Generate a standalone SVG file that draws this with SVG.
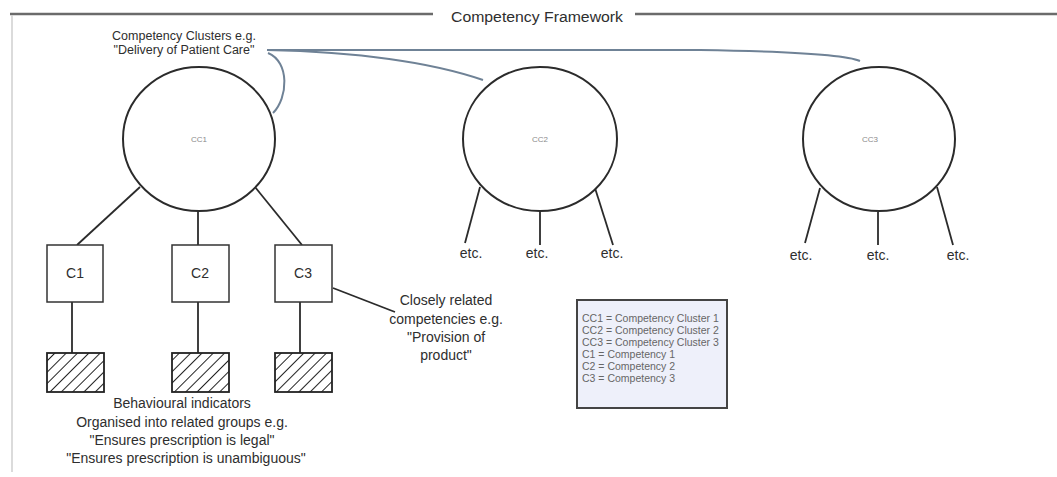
<svg xmlns="http://www.w3.org/2000/svg" width="1057" height="477" viewBox="0 0 1057 477">
<defs>
<style>
text{font-family:"Liberation Sans",Arial,sans-serif;fill:#2e2e2e}
.frame{stroke:#6b6b6b;stroke-width:2.5;fill:none}
.border{stroke:#cfcfcf;stroke-width:1.5;fill:none}
.cc{fill:#fff;stroke:#2b2b2b;stroke-width:2}
.box{fill:#fff;stroke:#333;stroke-width:1.5}
.hatch{fill:url(#hatch);stroke:#222;stroke-width:1.8}
.ln{stroke:#2b2b2b;stroke-width:1.8;fill:none}
.blue{stroke:#6f8296;stroke-width:2;fill:none}
.lbl{font-size:14px;text-anchor:middle}
.tiny{font-size:8px;fill:#8a8a8a;text-anchor:middle}
.leg{font-size:10.5px;fill:#666}
</style>
<pattern id="hatch" patternUnits="userSpaceOnUse" width="8" height="8" patternTransform="rotate(45)">
<rect width="8" height="8" fill="#fff"/>
<line x1="0" y1="0" x2="0" y2="8" stroke="#222" stroke-width="2"/>
</pattern>
</defs>
<rect width="1057" height="477" fill="#fff"/>
<g id="frame">
<line class="frame" x1="10" y1="14" x2="433" y2="14"/>
<line class="frame" x1="635" y1="14" x2="1057" y2="14"/>
<line class="border" x1="12" y1="15" x2="12" y2="472"/>
<text x="537" y="22" font-size="14" text-anchor="middle" fill="#555" textLength="172" lengthAdjust="spacingAndGlyphs">Competency Framework</text>
</g>
<g id="connectors">
<path class="blue" d="M267,50 L700,50 Q840,52 860,61"/>
<path class="blue" d="M267,50 C360,52 430,62 483,80"/>
<path class="blue" d="M268,53 C290,62 288,98 273,113"/>
<path class="ln" d="M140,187 L77,245"/>
<path class="ln" d="M198,210 L198,245"/>
<path class="ln" d="M255,187 L302,245"/>
<path class="ln" d="M72,302 L72,353"/>
<path class="ln" d="M198,302 L198,353"/>
<path class="ln" d="M300,302 L300,353"/>
<path class="ln" d="M333,288 L395,312"/>
<path class="ln" d="M480,187 L465,243"/>
<path class="ln" d="M540,210 L540,245"/>
<path class="ln" d="M595,188 L613,245"/>
<path class="ln" d="M820,188 L805,243"/>
<path class="ln" d="M878,212 L878,245"/>
<path class="ln" d="M937,187 L953,245"/>
</g>
<g id="cc1"><ellipse class="cc" cx="199" cy="139" rx="76" ry="72"/><text class="tiny" x="199" y="142">CC1</text></g>
<g id="cc2"><ellipse class="cc" cx="540" cy="139" rx="77" ry="72"/><text class="tiny" x="540" y="142">CC2</text></g>
<g id="cc3"><ellipse class="cc" cx="879" cy="139" rx="76" ry="72"/><text class="tiny" x="870" y="142">CC3</text></g>
<g id="c1"><rect class="box" x="47" y="245" width="56" height="57"/><text class="lbl" x="75" y="278" fill="#444">C1</text></g>
<g id="c2"><rect class="box" x="172" y="245" width="57" height="57"/><text class="lbl" x="200" y="278" fill="#444">C2</text></g>
<g id="c3"><rect class="box" x="275" y="245" width="57" height="57"/><text class="lbl" x="303" y="278" fill="#444">C3</text></g>
<g id="bi1"><rect class="hatch" x="47" y="353" width="57" height="39"/></g>
<g id="bi2"><rect class="hatch" x="172" y="353" width="57" height="39"/></g>
<g id="bi3"><rect class="hatch" x="275" y="353" width="57" height="39"/></g>
<g id="etc">
<text class="lbl" x="471" y="258">etc.</text>
<text class="lbl" x="537" y="258">etc.</text>
<text class="lbl" x="612" y="258">etc.</text>
<text class="lbl" x="801" y="260">etc.</text>
<text class="lbl" x="878" y="260">etc.</text>
<text class="lbl" x="958" y="260">etc.</text>
</g>
<g id="cluster-label">
<text x="184" y="40" font-size="12.5" text-anchor="middle" fill="#444">Competency Clusters e.g.</text>
<text x="184" y="54" font-size="12.5" text-anchor="middle" fill="#444">"Delivery of Patient Care"</text>
</g>
<g id="related-label">
<text class="lbl" x="446" y="305">Closely related</text>
<text class="lbl" x="446" y="324">competencies e.g.</text>
<text class="lbl" x="446" y="342">"Provision of</text>
<text class="lbl" x="446" y="360">product"</text>
</g>
<g id="behaviour-label">
<text class="lbl" x="182" y="408">Behavioural indicators</text>
<text class="lbl" x="182" y="427">Organised into related groups e.g.</text>
<text class="lbl" x="182" y="445">"Ensures prescription is legal"</text>
<text class="lbl" x="186" y="463">"Ensures prescription is unambiguous"</text>
</g>
<g id="legend">
<rect x="577" y="300" width="150" height="108" fill="#eef0fa" stroke="#444" stroke-width="2"/>
<text class="leg" x="582" y="322">CC1 = Competency Cluster 1</text>
<text class="leg" x="582" y="334">CC2 = Competency Cluster 2</text>
<text class="leg" x="582" y="346">CC3 = Competency Cluster 3</text>
<text class="leg" x="582" y="358">C1 = Competency 1</text>
<text class="leg" x="582" y="370">C2 = Competency 2</text>
<text class="leg" x="582" y="382">C3 = Competency 3</text>
</g>
</svg>
